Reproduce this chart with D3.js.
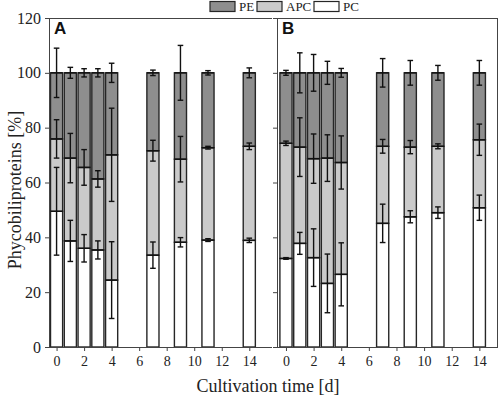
<!DOCTYPE html>
<html>
<head>
<meta charset="utf-8">
<script src="https://cdn.jsdelivr.net/npm/d3@7"></script>
<style>
  body { margin: 0; background: #fff; }
  svg { display: block; font-family: "Liberation Serif", "DejaVu Serif", serif; }
</style>
</head>
<body>
<div id="chart"></div>
<script>
// cultivation days
const days = [0, 1, 2, 3, 4, 7, 9, 11, 14];

// panel A: segment shares (%) and SDs
const pcA   = [49.5, 38.7, 36.0, 35.4, 24.4, 33.5, 38.2, 39.0, 38.9];
const apcA  = [26.4, 30.2, 29.5, 25.9, 45.7, 38.1, 30.3, 33.7, 34.3];
const peA   = [24.1, 31.1, 34.5, 38.7, 29.9, 28.4, 31.5, 27.3, 26.8];
const pcSdA  = [16, 7.5, 5, 3.3, 14, 4.8, 1.7, 0.5, 0.8];
const apcSdA = [7, 9, 6.5, 3, 17, 3.8, 8.3, 0.5, 1.2];
const peSdA  = [9, 2, 1.5, 1.5, 3.5, 1, 10, 0.8, 1.8];

// panel B
const pcB   = [32.3, 37.8, 32.6, 23.2, 26.5, 45.1, 47.5, 49.0, 50.8];
const apcB  = [42.0, 35.1, 36.1, 45.7, 40.8, 28.1, 25.4, 24.2, 24.8];
const peB   = [25.7, 27.1, 31.3, 31.1, 32.7, 26.8, 27.1, 26.8, 24.4];
const pcSdB  = [0.3, 4, 10.5, 10.7, 11.5, 7, 2.2, 2.1, 4.6];
const apcSdB = [0.8, 10.7, 9, 8.5, 9.7, 2.5, 2.4, 0.9, 5.7];
const peSdB  = [0.9, 7.3, 6.7, 4.2, 1.6, 5.2, 4.5, 2.7, 4.5];

const xTicks = [0, 2, 4, 6, 8, 10, 12, 14];
const yTicks = [0, 20, 40, 60, 80, 100, 120];

const series = ["PE", "APC", "PC"];
const colors = { PE: "#8e8e8e", APC: "#cacaca", PC: "#ffffff" };

const width = 500, height = 397;
const plotTop = 18, plotBottom = 347;

const svg = d3.select("#chart").append("svg")
  .attr("width", width)
  .attr("height", height);

const y = d3.scaleLinear().domain([0, 120]).range([plotBottom, plotTop]);

function panel(label, x0, x1, dom, pc, apc, pe, pcSd, apcSd, peSd, showY) {
  const x = d3.scaleLinear().domain(dom).range([x0, x1]);
  const g = svg.append("g");
  const bw = x(0.88) - x(0);

  const rows = days.map((d, i) => ({ day: d, PC: pc[i], APC: apc[i], PE: pe[i] }));
  const stack = d3.stack().keys(["PC", "APC", "PE"])(rows);

  g.selectAll("g.layer")
    .data(stack)
    .join("g")
    .attr("fill", s => colors[s.key])
    .selectAll("rect")
    .data(s => s)
    .join("rect")
    .attr("x", d => x(d.data.day) - bw / 2)
    .attr("width", bw)
    .attr("y", d => y(d[1]))
    .attr("height", d => y(d[0]) - y(d[1]))
    .attr("stroke", "#262626")
    .attr("stroke-width", 1.4);

  // error bars at the top of each segment
  const errs = [];
  days.forEach((d, i) => {
    errs.push({ day: d, v: pc[i], sd: pcSd[i] });
    errs.push({ day: d, v: pc[i] + apc[i], sd: apcSd[i] });
    errs.push({ day: d, v: pc[i] + apc[i] + pe[i], sd: peSd[i] });
  });
  const cap = 2.8;
  const eb = g.append("g").attr("stroke", "#111").attr("stroke-width", 1.4);
  eb.selectAll("line.v").data(errs).join("line")
    .attr("x1", d => x(d.day)).attr("x2", d => x(d.day))
    .attr("y1", d => y(d.v - d.sd)).attr("y2", d => y(d.v + d.sd));
  eb.selectAll("line.t").data(errs).join("line")
    .attr("x1", d => x(d.day) - cap).attr("x2", d => x(d.day) + cap)
    .attr("y1", d => y(d.v + d.sd)).attr("y2", d => y(d.v + d.sd));
  eb.selectAll("line.b").data(errs).join("line")
    .attr("x1", d => x(d.day) - cap).attr("x2", d => x(d.day) + cap)
    .attr("y1", d => y(d.v - d.sd)).attr("y2", d => y(d.v - d.sd));
  eb.selectAll("line.m").data(errs).join("line")
    .attr("x1", d => x(d.day) - bw / 2).attr("x2", d => x(d.day) + bw / 2)
    .attr("y1", d => y(d.v)).attr("y2", d => y(d.v));

  // axes
  const xAxis = g.append("g")
    .attr("transform", `translate(0,${plotBottom})`)
    .call(d3.axisBottom(x).tickValues(xTicks).tickSize(4).tickPadding(5));
  const yAxis = g.append("g")
    .attr("transform", `translate(${x0},0)`)
    .call(d3.axisLeft(y).tickValues(yTicks).tickSize(4).tickPadding(4)
      .tickFormat(showY ? d3.format("d") : ""));
  [xAxis, yAxis].forEach(a => {
    a.selectAll("path, line").attr("stroke", "#444");
    a.selectAll("text").attr("fill", "#222")
      .style("font-family", "'Liberation Serif', serif");
  });
  xAxis.select(".domain").attr("d", `M${x0},0.5H${x1}`);
  yAxis.select(".domain").attr("d", `M0.5,${plotBottom}V${plotTop}`);
  xAxis.selectAll("text").style("font-size", "14px");
  yAxis.selectAll("text").style("font-size", "16px");

  // frame
  g.append("line").attr("x1", x0).attr("x2", x1).attr("y1", plotTop + 0.5).attr("y2", plotTop + 0.5)
    .attr("stroke", "#444");
  if (!showY) {
    g.append("line").attr("x1", x1 - 0.5).attr("x2", x1 - 0.5).attr("y1", plotTop).attr("y2", plotBottom)
      .attr("stroke", "#444");
  }

  g.append("text")
    .attr("x", x0 + 5).attr("y", plotTop + 16)
    .style("font-family", "'Liberation Sans', Arial, sans-serif")
    .style("font-weight", "bold").style("font-size", "17px")
    .attr("fill", "#111")
    .text(label);
}

panel("A", 49, 272, [-0.55, 15.65], pcA, apcA, peA, pcSdA, apcSdA, peSdA, true);
panel("B", 277, 498, [-0.65, 15.35], pcB, apcB, peB, pcSdB, apcSdB, peSdB, false);

// legend
const legX = { PE: 210, APC: 257, PC: 314 };
const leg = svg.append("g");
series.forEach(k => {
  leg.append("rect")
    .attr("x", legX[k]).attr("y", 1.5)
    .attr("width", 25).attr("height", 10)
    .attr("fill", colors[k]).attr("stroke", "#262626").attr("stroke-width", 1.2);
  leg.append("text")
    .attr("x", legX[k] + 29).attr("y", 11)
    .style("font-size", "13px").attr("fill", "#222")
    .text(k);
});

// axis titles
svg.append("text")
  .attr("x", 268).attr("y", 392)
  .attr("text-anchor", "middle")
  .style("font-size", "18px").attr("fill", "#222")
  .text("Cultivation time [d]");

svg.append("text")
  .attr("transform", "translate(21,190) rotate(-90)")
  .attr("text-anchor", "middle")
  .style("font-size", "18px").attr("fill", "#222")
  .text("Phycobiliproteins [%]");
</script>
</body>
</html>
